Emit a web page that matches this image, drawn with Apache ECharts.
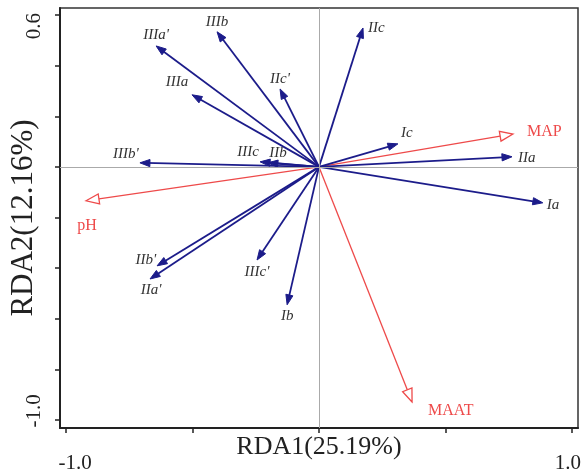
<!DOCTYPE html>
<html>
<head>
<meta charset="utf-8">
<script src="https://cdn.jsdelivr.net/npm/echarts@6/dist/echarts.min.js"></script>
<style>
html,body{margin:0;padding:0;background:#fff;}
#chart{width:584px;height:470px;}
</style>
</head>
<body>
<div id="chart"></div>
<script>
// ---- data ----
const speciesNames = ["IIIa'", "IIIa", "IIIb'", "IIIb", "IIc'", "IIc", "IIIc", "IIb", "Ic", "IIa", "Ia", "IIb'", "IIa'", "IIIc'", "Ib"];
const speciesRDA1 = [-0.644, -0.502, -0.708, -0.403, -0.154, 0.174, -0.233, -0.202, 0.312, 0.763, 0.885, -0.640, -0.668, -0.245, -0.126];
const speciesRDA2 = [0.478, 0.285, 0.016, 0.534, 0.308, 0.549, 0.020, 0.016, 0.091, 0.040, -0.142, -0.391, -0.443, -0.368, -0.545];

const envNames = ["MAP", "pH", "MAAT"];
const envRDA1 = [0.767, -0.921, 0.368];
const envRDA2 = [0.130, -0.134, -0.929];

const xTickValues = [-1.0, -0.5, 0, 0.5, 1.0];
const xTickLabels = [-1.0, 1.0];
const yTickValues = [-1.0, -0.8, -0.6, -0.4, -0.2, 0, 0.2, 0.4, 0.6];
const yTickLabels = [-1.0, 0.6];

const xAxisName = 'RDA1(25.19%)';
const yAxisName = 'RDA2(12.16%)';

// ---- label placement (style only) : [dx, dy, align] relative to arrow tip ----
const labelPlace = {
  "IIIa'": [0, -11, 'center'], "IIIa": [-15, -13, 'center'], "IIIb'": [-14, -9, 'center'],
  "IIIb": [0, -10, 'center'], "IIc'": [0, -10, 'center'], "IIc": [5, 0, 'left'],
  "IIIc": [-12, -10, 'center'], "IIb": [10, -10, 'center'], "Ic": [9, -11, 'center'],
  "IIa": [6, 1, 'left'], "Ia": [4, 2, 'left'], "IIb'": [-1, -6, 'right'],
  "IIa'": [1, 11, 'center'], "IIIc'": [0, 12, 'center'], "Ib": [0, 11, 'center'],
  "MAP": [14, -2, 'left'], "pH": [1, 25, 'center'], "MAAT": [16, 9, 'left']
};

const SERIF = '"Liberation Serif", "Times New Roman", serif';
const BLUE = '#1c1c8a';
const RED = '#ee4a4a';

function makeRender(names, color, hollow) {
  return function (params, api) {
    const x = api.value(0), y = api.value(1);
    const o = api.coord([0, 0]);
    const t = api.coord([x, y]);
    const dx = t[0] - o[0], dy = t[1] - o[1];
    const L = Math.hypot(dx, dy) || 1;
    const ux = dx / L, uy = dy / L, px = -uy, py = ux;
    const hl = hollow ? 13 : 10, hw = hollow ? 5 : 3.6;
    const b = [t[0] - ux * hl, t[1] - uy * hl];
    const lineEnd = hollow ? b : [t[0] - ux * hl * 0.5, t[1] - uy * hl * 0.5];
    const name = names[params.dataIndex];
    const lp = labelPlace[name] || [0, -10, 'center'];
    return {
      type: 'group',
      children: [
        { type: 'line', shape: { x1: o[0], y1: o[1], x2: lineEnd[0], y2: lineEnd[1] },
          style: { stroke: color, lineWidth: hollow ? 1.3 : 1.8 } },
        { type: 'polygon',
          shape: { points: [t, [b[0] + px * hw, b[1] + py * hw], [b[0] - px * hw, b[1] - py * hw]] },
          style: hollow ? { fill: '#fff', stroke: color, lineWidth: 1.3 } : { fill: color, stroke: color, lineWidth: 1 } },
        { type: 'text', x: t[0] + lp[0], y: t[1] + lp[1],
          style: { text: name, fill: hollow ? RED : '#333', font: (hollow ? '16px ' : 'italic 15px ') + SERIF,
                   align: lp[2], verticalAlign: 'middle' } }
      ]
    };
  };
}

const chart = echarts.init(document.getElementById('chart'));
chart.setOption({
  animation: false,
  backgroundColor: '#fff',
  grid: { left: 60, right: 6, top: 8, bottom: 42, outerBoundsMode: 'none', containLabel: false,
          show: true, borderColor: '#333', borderWidth: 1.5, backgroundColor: 'transparent' },
  xAxis: {
    type: 'value', min: -1.024, max: 1.024,
    name: xAxisName, nameLocation: 'middle', nameGap: 6, nameMoveOverlap: false,
    nameTextStyle: { fontFamily: SERIF, fontSize: 26, color: '#222', verticalAlign: 'top' },
    axisLine: { show: true, onZero: false, lineStyle: { color: '#222', width: 2 } },
    axisTick: { show: true, inside: false, length: 5, customValues: xTickValues, lineStyle: { color: '#222', width: 1.5 } },
    axisLabel: { show: true, customValues: xTickLabels, margin: 25, fontFamily: SERIF, fontSize: 21, color: '#222',
      formatter: v => v < 0 ? '{l|' + v.toFixed(1) + '}' : '{r|' + v.toFixed(1) + '}',
      rich: { l: { padding: [0, 0, 0, 18], fontFamily: SERIF, fontSize: 21, color: '#222' },
              r: { padding: [0, 8, 0, 0], fontFamily: SERIF, fontSize: 21, color: '#222' } } },
    splitLine: { show: false }
  },
  yAxis: {
    type: 'value', min: -1.032, max: 0.628,
    name: yAxisName, nameLocation: 'middle', nameGap: 21, nameRotate: 90, nameMoveOverlap: false,
    nameTextStyle: { fontFamily: SERIF, fontSize: 31, color: '#222' },
    axisLine: { show: true, onZero: false, lineStyle: { color: '#222', width: 2 } },
    axisTick: { show: true, inside: false, length: 5, customValues: yTickValues, lineStyle: { color: '#222', width: 1.5 } },
    axisLabel: { show: true, customValues: yTickLabels, rotate: 90, margin: 15, fontFamily: SERIF, fontSize: 21, color: '#222',
      formatter: v => v < 0 ? '{l|' + v.toFixed(1) + '}' : '{r|' + v.toFixed(1) + '}',
      rich: { l: { padding: [0, 0, 0, 18], fontFamily: SERIF, fontSize: 21, color: '#222' },
              r: { padding: [0, 22, 0, 0], fontFamily: SERIF, fontSize: 21, color: '#222' } } },
    splitLine: { show: false }
  },
  series: [
    {
      type: 'custom', name: 'species', renderItem: makeRender(speciesNames, BLUE, false),
      data: speciesRDA1.map((v, i) => [v, speciesRDA2[i]]), z: 3, clip: false,
      markLine: { silent: true, symbol: 'none', label: { show: false },
        lineStyle: { color: '#aaa', width: 1, type: 'solid' }, data: [{ xAxis: 0 }, { yAxis: 0 }] }
    },
    {
      type: 'custom', name: 'environment', renderItem: makeRender(envNames, RED, true),
      data: envRDA1.map((v, i) => [v, envRDA2[i]]), z: 2, clip: false
    }
  ]
});
</script>
</body>
</html>
